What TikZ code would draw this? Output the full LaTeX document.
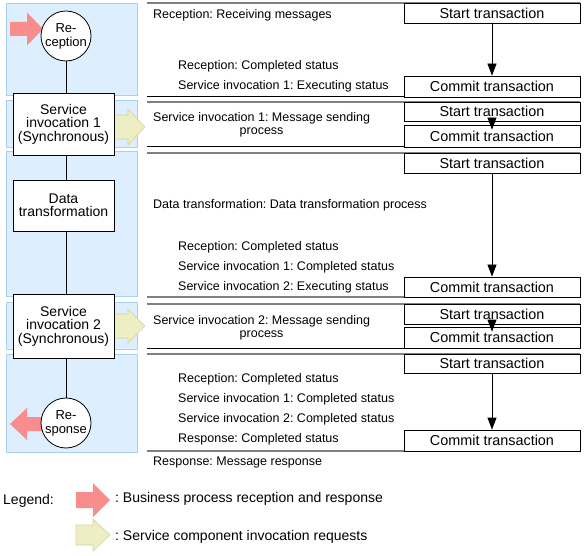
\documentclass[tikz,border=0pt]{standalone}
\usepackage{fontspec}
\setmainfont{Liberation Sans}
\usetikzlibrary{arrows.meta}
\frenchspacing
\definecolor{panelfill}{HTML}{DDEEFF}
\definecolor{paneledge}{HTML}{A8D0F5}
\definecolor{pinkarr}{HTML}{F98C8C}
\definecolor{yelarr}{HTML}{EEEEC4}
\definecolor{yeledge}{HTML}{D4D4A0}
\definecolor{sepgray}{HTML}{808080}
\newcommand\fatarr[7]{%
  \path[#1] (#2,#5-#6) -- (#3,#5-#6) -- (#3,#5-#7) -- (#4,#5) -- (#3,#5+#7) -- (#3,#5+#6) -- (#2,#5+#6) -- cycle;}
\tikzset{
  panel/.style={fill=panelfill, draw=paneledge, line width=1pt},
  procbox/.style={draw, fill=white, line width=0.8pt, minimum width=101pt, inner sep=0pt, align=center, font=\fontsize{14}{13.5}\selectfont},
  endpt/.style={circle, draw, fill=white, line width=0.8pt, minimum size=50pt, inner sep=0pt, align=center, font=\fontsize{13}{14}\selectfont},
  txbox/.style={draw, fill=white, line width=0.8pt, minimum width=176pt, minimum height=20pt, inner sep=0pt, font=\fontsize{14.4}{15}\selectfont},
  sidetext/.style={anchor=base west, inner sep=0pt, font=\fontsize{12.5}{13}\selectfont},
  centext/.style={anchor=base, inner sep=0pt, font=\fontsize{12.5}{13}\selectfont},
  legtext/.style={anchor=base west, inner sep=0pt, font=\fontsize{14}{15}\selectfont},
  sepblack/.style={draw=black, line width=1pt},
  sepgrey/.style={draw=sepgray, line width=2pt},
  pinkfat/.style={fill=pinkarr},
  yelfat/.style={fill=yelarr, draw=yeledge, line width=0.6pt},
  flowline/.style={draw, line width=0.8pt},
  txarrow/.style={draw, line width=0.8pt, -{Triangle[width=9pt,length=12pt]}},
}
\begin{document}
\begin{tikzpicture}[x=1pt,y=-1pt]
\useasboundingbox (0,0) rectangle (584,556);
% panels
\path[panel] (6,4) rectangle (137,96);
\path[panel] (6,101) rectangle (137,148);
\path[panel] (6,152) rectangle (137,297);
\path[panel] (6,303) rectangle (137,349);
\path[panel] (6,354) rectangle (137,452);
% separators
\path[sepgrey] (147,3) -- (580,3);
\path[sepblack] (147,97) -- (580,97);
\path[sepgrey] (147,102) -- (580,102);
\path[sepblack] (147,147) -- (580,147);
\path[sepgrey] (147,153) -- (580,153);
\path[sepgrey] (147,297) -- (580,297);
\path[sepgrey] (147,304) -- (580,304);
\path[sepblack] (147,348) -- (580,348);
\path[sepgrey] (147,354) -- (580,354);
\path[sepgrey] (147,451) -- (580,451);
% yellow arrows (behind boxes)
\fatarr{yelfat}{108}{128}{145}{127}{12}{18}
\fatarr{yelfat}{108}{128}{145}{326}{12}{17}
% pink arrows (behind circles)
\fatarr{pinkfat}{10}{27}{43}{29}{7}{16.5}
\fatarr{pinkfat}{45}{27}{10}{424}{7}{16}
% left nodes
\node[endpt] (rec) at (66,36) {Re-\\ception};
\node[procbox, minimum height=62pt] (si1) at (63.5,124) {Service\\invocation 1\\(Synchronous)};
\node[procbox, minimum height=51pt] (dt) at (63.5,205.5) {Data\\transformation};
\node[procbox, minimum height=64pt] (si2) at (63.5,326) {Service\\invocation 2\\(Synchronous)};
\node[endpt] (resp) at (66,423) {Re-\\sponse};
\path[flowline] (rec) -- (rec |- si1.north);
\path[flowline] (si1.south -| rec) -- (dt.north -| rec);
\path[flowline] (dt.south -| rec) -- (si2.north -| rec);
\path[flowline] (si2.south -| resp) -- (resp);
% transaction boxes
\node[txbox] (s1) at (492,13) {Start transaction};
\node[txbox, minimum height=21pt] (c1) at (492,86.5) {Commit transaction};
\node[txbox, minimum height=19pt] (s2) at (492,111.5) {Start transaction};
\node[txbox, minimum height=22pt] (c2) at (492,136) {Commit transaction};
\node[txbox] (s3) at (492,163) {Start transaction};
\node[txbox] (c3) at (492,287) {Commit transaction};
\node[txbox] (s4) at (492,314) {Start transaction};
\node[txbox, minimum height=21pt] (c4) at (492,337.5) {Commit transaction};
\node[txbox, minimum height=19pt] (s5) at (492,363.5) {Start transaction};
\node[txbox, minimum height=21pt] (c5) at (492,440.5) {Commit transaction};
\path[txarrow] (s1.south) -- (c1.north);
\path[txarrow] (s2.south) -- ([yshift=-5pt]c2.north);
\path[txarrow] (s3.south) -- (c3.north);
\path[txarrow] (s4.south) -- ([yshift=-5pt]c4.north);
\path[txarrow] (s5.south) -- (c5.north);
% side texts
\node[sidetext] (t1) at (153,18.5) {Reception: Receiving messages};
\node[sidetext] (t2) at (178,69.5) {Reception: Completed status};
\node[sidetext] (t3) at (178,89.5) {Service invocation 1: Executing status};
\node[sidetext] (t4) at (153,121.5) {Service invocation 1: Message sending};
\node[centext] (t4b) at ([yshift=-13pt]t4.base) {process};
\node[sidetext] (t5) at (153,208.5) {Data transformation: Data transformation process};
\node[sidetext] (t6) at (178,250.5) {Reception: Completed status};
\node[sidetext] (t7) at (178,270.5) {Service invocation 1: Completed status};
\node[sidetext] (t8) at (178,290.5) {Service invocation 2: Executing status};
\node[sidetext] (t9) at (153,324.5) {Service invocation 2: Message sending};
\node[centext] (t9b) at ([yshift=-13pt]t9.base) {process};
\node[sidetext] (t10) at (178,382.5) {Reception: Completed status};
\node[sidetext] (t11) at (178,402.5) {Service invocation 1: Completed status};
\node[sidetext] (t12) at (178,422.5) {Service invocation 2: Completed status};
\node[sidetext] (t13) at (178,442.5) {Response: Completed status};
\node[sidetext] (t14) at (153,465.5) {Response: Message response};
% legend
\node[legtext] (lg) at (3,504) {Legend:};
\fatarr{pinkfat}{76}{93}{110}{500}{8}{17}
\fatarr{yelfat}{76}{93}{110}{535}{10}{16}
\node[legtext] (lg1) at (115,502) {: Business process reception and response};
\node[legtext] (lg2) at (115,540) {: Service component invocation requests};
\end{tikzpicture}
\end{document}
